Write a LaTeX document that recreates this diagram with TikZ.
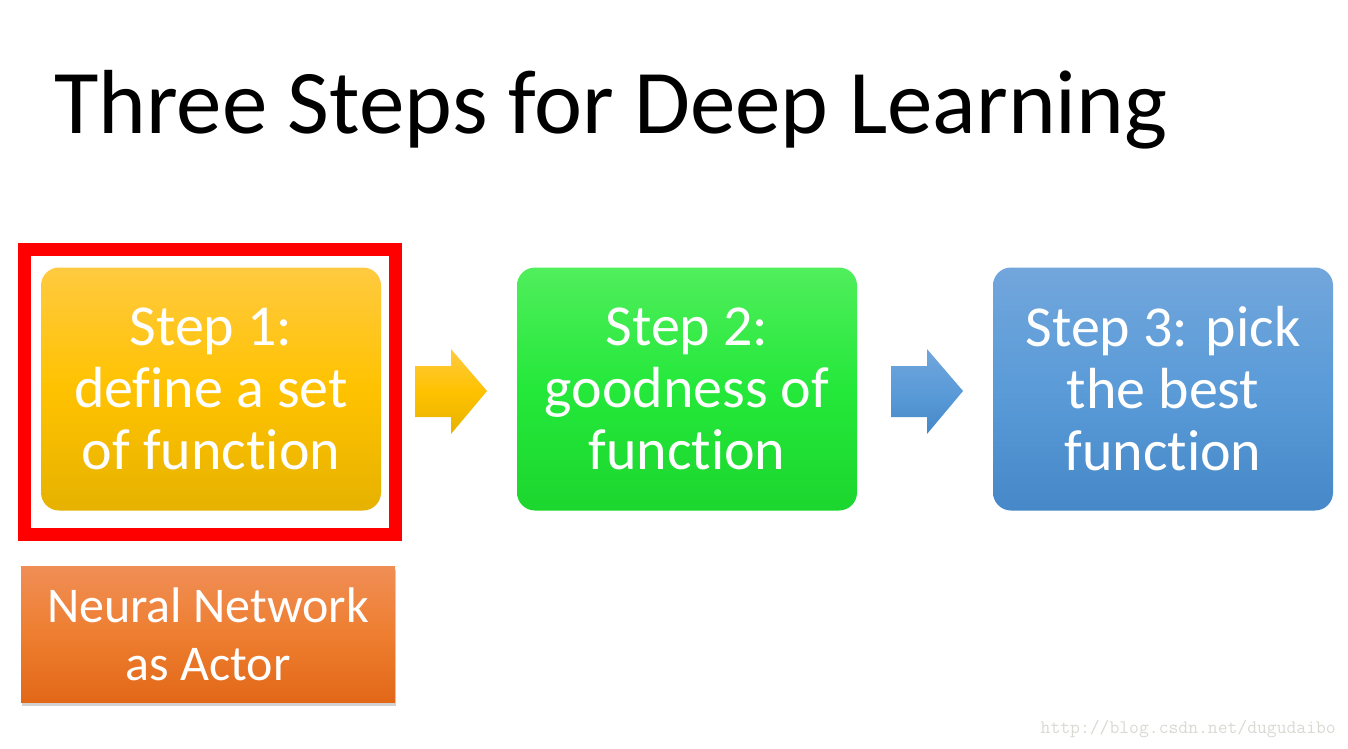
\documentclass[tikz,border=0pt]{standalone}
\usepackage{fontspec}
\setmainfont{Carlito}[Ligatures={NoCommon}]
\usetikzlibrary{shadows}
\definecolor{goldtop}{RGB}{255,202,64}
\definecolor{goldmid}{RGB}{255,194,0}
\definecolor{goldbot}{RGB}{230,178,0}
\definecolor{greentop}{RGB}{80,238,92}
\definecolor{greenmid}{RGB}{36,232,58}
\definecolor{greenbot}{RGB}{28,214,46}
\definecolor{bluetop}{RGB}{114,166,220}
\definecolor{bluemid}{RGB}{90,155,216}
\definecolor{bluebot}{RGB}{70,136,200}
\definecolor{orangetop}{RGB}{240,142,86}
\definecolor{orangemid}{RGB}{238,126,48}
\definecolor{orangebot}{RGB}{226,104,24}
\definecolor{marktext}{RGB}{218,218,212}

\begin{document}
\begin{tikzpicture}[x=1pt,y=-1pt]
\tikzstyle{every node}+=[inner sep=0pt]
\tikzstyle{stepbox}=[rounded corners=18pt, minimum width=340pt, minimum height=243pt,
  text=white, align=center, font=\fontsize{58}{62}\selectfont]
\useasboundingbox [fill=white] (0,0) rectangle (1348,748);

\node [anchor=base west, font=\fontsize{91}{110}\selectfont] (title) at (54,133) {Three Steps for Deep Learning};

\node [stepbox, top color=goldtop, bottom color=goldbot, middle color=goldmid] (s1) at (211,389)
  {Step 1:\\define a set\\of function};
\node [stepbox, top color=greentop, bottom color=greenbot, middle color=greenmid] (s2) at (687,389)
  {Step 2:\\goodness of\\function};
\node [stepbox, top color=bluetop, bottom color=bluebot, middle color=bluemid] (s3) at (1163,389)
  {Step 3: pick\\the best\\function};

\draw [red, line width=13pt] (24.5,249.5) rectangle (395.5,534.5);

\shade [top color=goldtop, bottom color=goldbot, middle color=goldmid]
  (415,366) -- (451,366) -- (451,349) -- (487,391) -- (451,434) -- (451,417) -- (415,417) -- cycle;
\shade [top color=bluetop, bottom color=bluebot, middle color=bluemid]
  (891,366) -- (927,366) -- (927,349) -- (963,391) -- (927,434) -- (927,417) -- (891,417) -- cycle;

\node [minimum width=374pt, minimum height=136pt, top color=orangetop, bottom color=orangebot,
  middle color=orangemid, text=white, align=center, font=\fontsize{50}{58}\selectfont,
  drop shadow={shadow xshift=1pt, shadow yshift=-4pt, opacity=0.35}] (nn) at (208,634)
  {Neural Network\\as Actor};

\node [anchor=east, text=marktext, font=\ttfamily\fontsize{19.1}{21}\selectfont] (mark) at (1336,729)
  {http://blog.csdn.net/dugudaibo};
\end{tikzpicture}
\end{document}
